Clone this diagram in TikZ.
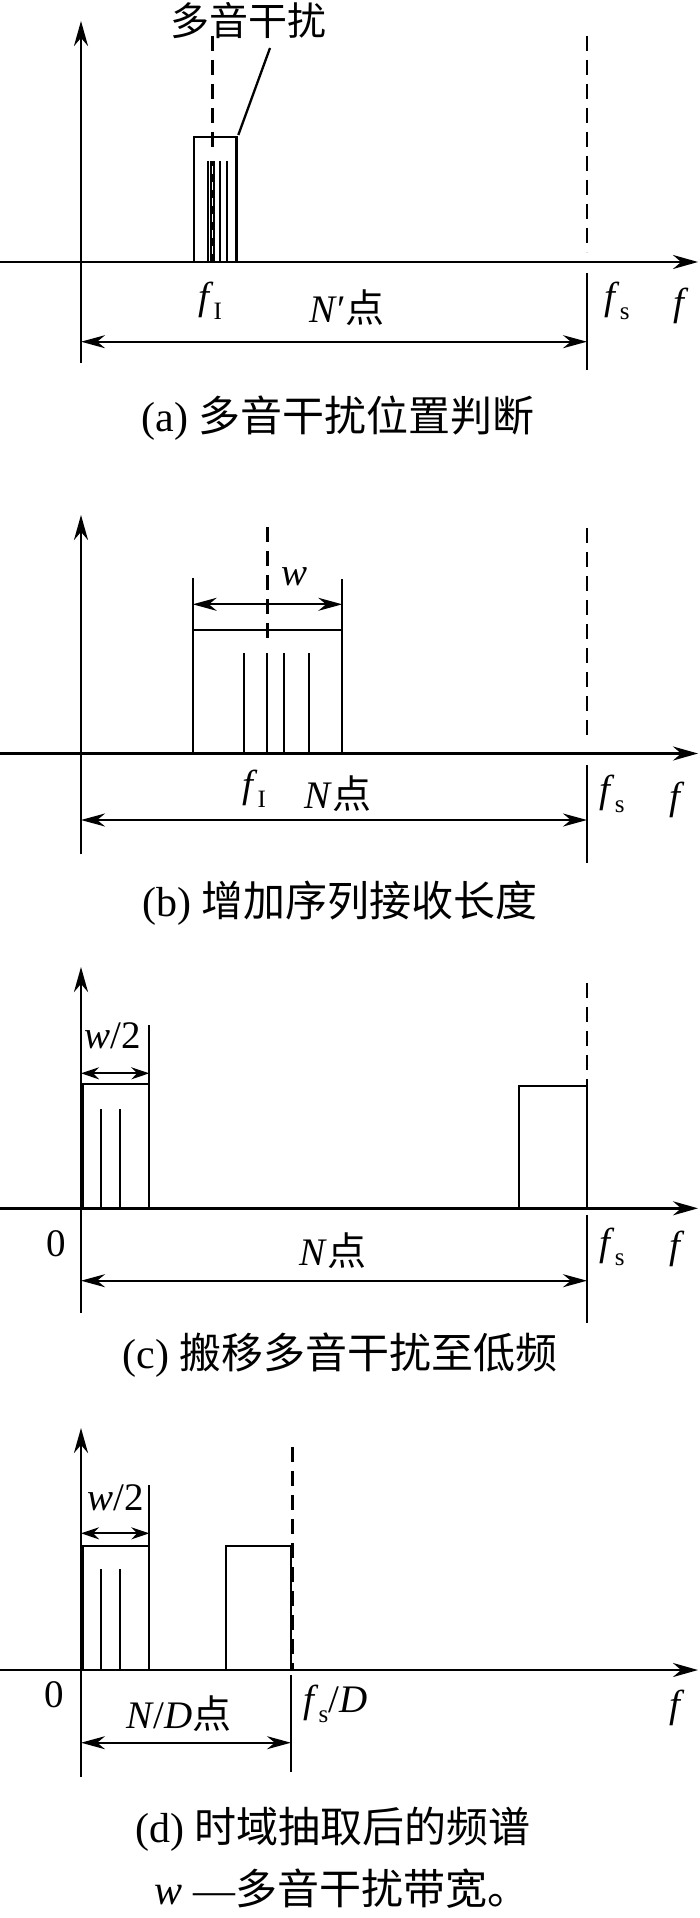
\documentclass[tikz,border=0pt]{standalone}
\usepackage{fontspec}
\setmainfont{Liberation Serif}
\newfontfamily\cjk{Noto Sans CJK SC}
\usetikzlibrary{arrows.meta}
\newcommand\lowsub[1]{\raisebox{-10pt}{\fontsize{25}{25}\selectfont #1}}
\tikzset{
  ax/.style={line width=2.8pt, -{Stealth[length=25pt,width=14pt]}},
  ln/.style={line width=2.3pt},
  dsh/.style={line width=2.4pt, dash pattern=on 15pt off 9pt},
  dimL/.style={line width=2.3pt, {Stealth[length=24pt,width=13pt]}-{Stealth[length=24pt,width=13pt]}},
  dimS/.style={line width=2.3pt, {Stealth[length=18pt,width=12pt]}-{Stealth[length=18pt,width=12pt]}},
  lbl/.style={inner sep=0pt, anchor=base, font=\fontsize{39}{41}\selectfont},
  captxt/.style={inner sep=0pt, anchor=base, font=\fontsize{42}{46}\selectfont},
}
\begin{document}
\begin{tikzpicture}[x=1pt,y=-1pt]
\useasboundingbox (0,0) rectangle (700,1918);
% ---------------- panel (a)
\draw[ax] (0,262) -- (698,262);
\draw[ax] (81,363) -- (81,21);
\draw[ln] (194,262) rectangle (236.5,137);
\coordinate (aboxtr) at (238.3,135);
\foreach \x in {208.3,220,226.7} \draw[ln] (\x,161) -- (\x,262);
\draw[line width=4.5pt] (212.5,161) -- (212.5,262);
\draw[white, line width=1.2pt, dash pattern=on 8pt off 8pt] (212.5,166) -- (212.5,257);
\draw[dsh] (212.5,36) -- (212.5,152);
\draw[dsh] (587,36) -- (587,252);
\draw[ln] (587,273) -- (587,370);
\draw[dimL] (81,341.7) -- (587,341.7);
\node[lbl] (amulti) at (248.5,35.5) {\cjk 多音干扰};
\draw[ln] (aboxtr) -- (270,48);
\node[lbl] (afi) at (210,309) {\textit{f}\lowsub{I}};
\node[lbl] (aN) at (347,322) {\textit{N}′{\cjk 点}};
\node[lbl] (afs) at (617,309) {\textit{f}\lowsub{s}};
\node[lbl] (af) at (681,315) {\textit{f}};
\node[captxt] (acap) at (338,431) {(a) {\cjk 多音干扰位置判断}};
% ---------------- panel (b)
\draw[ax] (0,753.5) -- (698,753.5);
\draw[ax] (81,854) -- (81,515);
\draw[ln] (192.7,577.7) -- (192.7,753.5);
\draw[ln] (342.3,579.3) -- (342.3,753.5);
\draw[ln] (192.7,630) -- (342.3,630);
\draw[dimL] (192.7,604.3) -- (342.3,604.3);
\node[lbl] (bw) at (295,585) {\textit{w}};
\draw[dsh] (267.3,526.7) -- (267.3,643);
\foreach \x in {244.3,267.3,284.3,308.7} \draw[ln] (\x,653.3) -- (\x,753.5);
\draw[dsh] (587,528) -- (587,743);
\draw[ln] (587,765) -- (587,863);
\draw[dimL] (81,820) -- (587,820);
\node[lbl] (bfi) at (254,797) {\textit{f}\lowsub{I}};
\node[lbl] (bN) at (338,808) {\textit{N}{\cjk 点}};
\node[lbl] (bfs) at (612,802) {\textit{f}\lowsub{s}};
\node[lbl] (bf) at (677,809) {\textit{f}};
\node[captxt] (bcap) at (340,916) {(b) {\cjk 增加序列接收长度}};
% ---------------- panel (c)
\draw[ax] (0,1208.3) -- (698,1208.3);
\draw[ax] (81,1313) -- (81,967);
\draw[ln] (82.5,1208.3) rectangle (149.3,1084.3);
\foreach \x in {101.3,120} \draw[ln] (\x,1109) -- (\x,1208.3);
\draw[ln] (149.3,1025) -- (149.3,1084.3);
\draw[dimS] (81,1073.3) -- (149.3,1073.3);
\node[lbl] (cw) at (113,1048) {\textit{w}/2};
\draw[ln] (519.2,1208.3) rectangle (587,1085.7);
\draw[dsh] (587,983) -- (587,1085.7);
\draw[ln] (587,1215) -- (587,1323);
\draw[dimL] (81,1280.7) -- (587,1280.7);
\node[lbl] (c0) at (56,1256) {0};
\node[lbl] (cN) at (333,1265) {\textit{N}{\cjk 点}};
\node[lbl] (cfs) at (612,1255) {\textit{f}\lowsub{s}};
\node[lbl] (cf) at (677,1258) {\textit{f}};
\node[captxt] (ccap) at (340,1368) {(c) {\cjk 搬移多音干扰至低频}};
% ---------------- panel (d)
\draw[ax] (0,1670) -- (698,1670);
\draw[ax] (81,1777) -- (81,1428);
\draw[ln] (82.5,1670) rectangle (149.3,1545.7);
\foreach \x in {101.3,120} \draw[ln] (\x,1569) -- (\x,1670);
\draw[ln] (149.3,1485) -- (149.3,1545.7);
\draw[dimS] (81,1533.3) -- (149.3,1533.3);
\node[lbl] (dw) at (115.8,1510) {\textit{w}/2};
\draw[ln] (225.7,1670) rectangle (291,1546);
\draw[dsh, line width=2.6pt] (292.5,1447) -- (292.5,1670);
\draw[ln] (291,1675) -- (291,1772);
\draw[dimL] (81,1742.7) -- (291,1742.7);
\node[lbl] (d0) at (54,1707) {0};
\node[lbl] (dN) at (179,1728) {\textit{N}/\textit{D}{\cjk 点}};
\node[lbl, anchor=base west] (dfs) at (303,1712) {\textit{f}\lowsub{s}/\textit{D}};
\node[lbl] (df) at (677,1717) {\textit{f}};
\node[captxt] (dcap) at (333,1842) {(d) {\cjk 时域抽取后的频谱}};
\node[captxt] (dnote) at (342,1904) {\textit{w} —{\cjk 多音干扰带宽。}};
\end{tikzpicture}
\end{document}
